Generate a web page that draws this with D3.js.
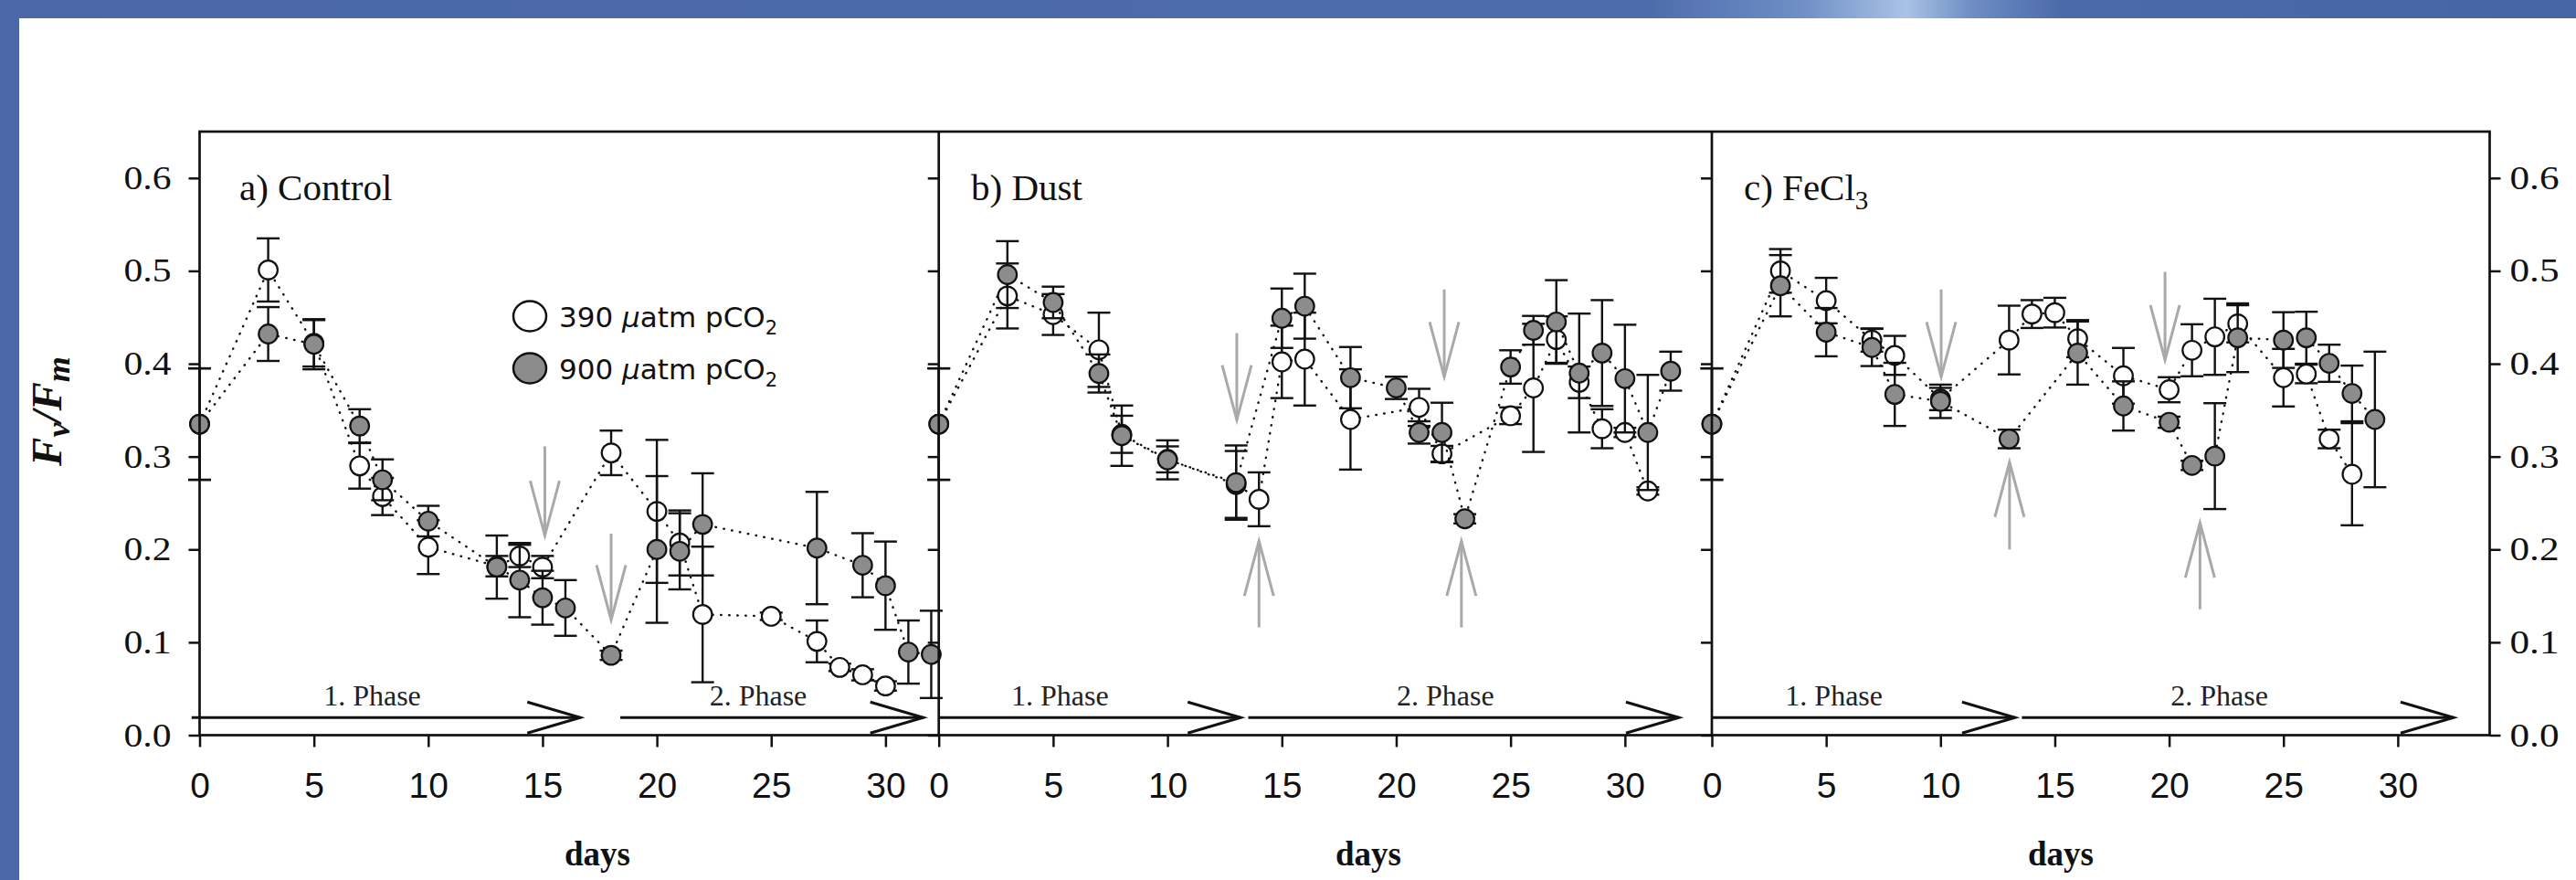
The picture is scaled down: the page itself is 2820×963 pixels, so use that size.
<!DOCTYPE html>
<html><head><meta charset="utf-8">
<script src="https://cdn.jsdelivr.net/npm/d3@7"></script>
<style>body{margin:0;background:#fff;overflow:hidden}</style>
</head><body>
<svg id="chart" width="2820" height="963" xmlns="http://www.w3.org/2000/svg"></svg>
<script>
// ---------------- data ----------------
const yTicks = [0, 0.1, 0.2, 0.3, 0.4, 0.5, 0.6];
const xTicks = [0, 5, 10, 15, 20, 25, 30];
const panelTitles = ["a) Control", "b) Dust", "c) FeCl"];
const legendLabels = ["390", "900"];

// a) Control
const controlDays390 = [0,3,5,7,8,10,13,14,15,18,20,21,22,25,27,28,29,30];
const controlFv390   = [0.335,0.501,0.422,0.290,0.257,0.2025,0.182,0.193,0.181,0.304,0.241,0.207,0.130,0.128,0.101,0.073,0.065,0.053];
const controlErr390  = [0.06,0.034,0.025,0.0245,0.02,0.029,0.011,0.012,0.012,0.024,0.077,0.035,0.073,0.004,0.0225,0.004,0.006,0.005];
const controlDays900 = [0,3,5,7,8,10,13,14,15,16,18,20,21,22,27,29,30,31,32];
const controlFv900   = [0.335,0.432,0.421,0.333,0.275,0.2305,0.181,0.167,0.148,0.137,0.086,0.200,0.198,0.227,0.2015,0.183,0.161,0.0895,0.087];
const controlErr900  = [0.06,0.029,0.027,0.018,0.022,0.0165,0.034,0.04,0.029,0.03,0.005,0.079,0.041,0.055,0.0605,0.0345,0.0475,0.034,0.047];

// b) Dust
const dustDays390 = [0,3,5,7,8,10,13,14,15,16,18,21,22,25,26,27,28,29,30,31];
const dustFv390   = [0.335,0.473,0.453,0.415,0.324,0.297,0.270,0.254,0.402,0.405,0.340,0.353,0.303,0.344,0.374,0.426,0.380,0.330,0.326,0.263];
const dustErr390  = [0.06,0.035,0.022,0.04,0.02,0.014,0.036,0.029,0.039,0.05,0.054,0.02,0.0085,0.009,0.069,0.025,0.017,0.021,0.005,0.004];
const dustDays900 = [0,3,5,7,8,10,13,15,16,18,20,21,22,23,25,26,27,28,29,30,31,32];
const dustFv900   = [0.335,0.496,0.466,0.3895,0.3225,0.2965,0.272,0.449,0.462,0.385,0.374,0.326,0.326,0.233,0.3965,0.436,0.445,0.390,0.4115,0.384,0.326,0.392];
const dustErr900  = [0.06,0.036,0.017,0.0205,0.0325,0.021,0.04,0.032,0.035,0.033,0.012,0.012,0.032,0.005,0.018,0.0155,0.045,0.064,0.057,0.058,0.062,0.021];

// c) FeCl3
const feDays390 = [0,3,5,7,8,10,13,14,15,16,18,20,21,22,23,25,26,27,28];
const feFv390   = [0.335,0.500,0.468,0.4255,0.409,0.362,0.4255,0.4535,0.455,0.427,0.387,0.372,0.4145,0.429,0.443,0.385,0.389,0.319,0.281];
const feErr390  = [0.06,0.0235,0.0245,0.0125,0.021,0.012,0.037,0.015,0.016,0.02,0.03,0.0135,0.028,0.041,0.02,0.031,0.01,0.01,0.055];
const feDays900 = [0,3,5,7,8,10,13,16,18,20,21,22,23,25,26,27,28,29];
const feFv900   = [0.335,0.484,0.434,0.4175,0.367,0.3595,0.319,0.4115,0.3545,0.337,0.2905,0.3005,0.428,0.4255,0.428,0.4005,0.368,0.340];
const feErr900  = [0.06,0.033,0.026,0.02,0.034,0.018,0.01,0.034,0.0265,0.006,0.005,0.057,0.037,0.03,0.028,0.02,0.03,0.073];

// gray marker arrows: [day, from value, to value (head)]
const controlMarks = [[15.1,0.311,0.215],[18.0,0.217,0.124]];
const dustMarks    = [[13.03,0.433,0.3395],[14.0,0.116,0.209],[22.1,0.48,0.386],[22.85,0.116,0.209]];
const feMarks      = [[10.03,0.48,0.386],[13.02,0.2,0.294],[19.82,0.499,0.404],[21.35,0.1355,0.2287]];

// phase arrows: [start day, end day]
const controlPhases = [[-0.35,16.65],[18.4,31.65]];
const dustPhases    = [[0,13.2],[13.53,32.36]];
const fePhases      = [[0,13.26],[13.56,32.44]];
const phaseLabelDays = [[7.55,24.43],[5.3,22.15],[5.34,22.2]];
const phaseLabels = ["1. Phase","2. Phase"];
const phaseLevel = 0.019;

// ---------------- layout ----------------
const svg = d3.select("#chart");
const plotTop = 144, plotBottom = 804.5;
const edges = [218.5, 1027.7, 1874, 2725.5];
const dayMax = [32.33, 33.8, 34.02];
const y = d3.scaleLinear().domain([0, 0.65]).range([plotBottom, plotTop]);

const SERIF = "'Liberation Serif','Times New Roman',serif";
const SANS = "'Liberation Sans',Arial,sans-serif";
const DJ = "'DejaVu Sans',Verdana,sans-serif";
const GRAY = "#8c8c8c";
const ARROWGRAY = "#a9a9a9";

// background frame (slide-style blue band)
const defs = svg.append("defs");
const grad = defs.append("linearGradient").attr("id","band").attr("x1","0").attr("x2","1").attr("y1","0").attr("y2","0");
[[0,"#4a68a8"],[0.64,"#4d6cab"],[0.7,"#6f8fc6"],[0.74,"#a9c3e6"],[0.765,"#6e8ec4"],[0.8,"#4b6aa9"],[1,"#4565a5"]]
  .forEach(([o,c]) => grad.append("stop").attr("offset",o).attr("stop-color",c));
svg.append("rect").attr("x",0).attr("y",0).attr("width",2820).attr("height",963).attr("fill","#fff");
svg.append("rect").attr("x",0).attr("y",0).attr("width",2820).attr("height",20).attr("fill","url(#band)");
svg.append("rect").attr("x",0).attr("y",0).attr("width",21).attr("height",963).attr("fill","#4a68a8");

const panels = [
  {open:[controlDays390,controlFv390,controlErr390], fill:[controlDays900,controlFv900,controlErr900], marks:controlMarks, phases:controlPhases},
  {open:[dustDays390,dustFv390,dustErr390], fill:[dustDays900,dustFv900,dustErr900], marks:dustMarks, phases:dustPhases},
  {open:[feDays390,feFv390,feErr390], fill:[feDays900,feFv900,feErr900], marks:feMarks, phases:fePhases}
];

function arrow(g, x1, y1, x2, y2, color, w, headLen, headHalf) {
  g.append("line").attr("x1",x1).attr("y1",y1).attr("x2",x2).attr("y2",y2)
    .attr("stroke",color).attr("stroke-width",w);
  const ang = Math.atan2(y2-y1, x2-x1);
  const bx = x2 - headLen*Math.cos(ang), by = y2 - headLen*Math.sin(ang);
  const px = -Math.sin(ang)*headHalf, py = Math.cos(ang)*headHalf;
  g.append("path").attr("d", `M${bx+px},${by+py}L${x2},${y2}L${bx-px},${by-py}`)
    .attr("fill","none").attr("stroke",color).attr("stroke-width",w).attr("stroke-linejoin","miter");
}

const dayLabelX = [654, 1498, 2256];

panels.forEach((p, i) => {
  const x = d3.scaleLinear().domain([0, dayMax[i]]).range([edges[i], edges[i+1]]);
  const g = svg.append("g");

  // x axis
  const xa = g.append("g").attr("transform",`translate(0,${plotBottom})`)
    .call(d3.axisBottom(x).tickValues(xTicks).tickSize(13).tickSizeOuter(0).tickPadding(28).tickFormat(d3.format("d")));
  xa.select(".domain").remove();
  xa.selectAll("line").attr("stroke","#111").attr("stroke-width",2.5);
  xa.selectAll("text").attr("font-family",SANS).attr("font-size",39).attr("fill","#111");

  // left y axis (ticks outward)
  const ya = g.append("g").attr("transform",`translate(${edges[i]},0)`)
    .call(d3.axisLeft(y).tickValues(yTicks).tickSize(12).tickSizeOuter(0).tickPadding(19).tickFormat(d3.format(".1f")));
  ya.select(".domain").remove();
  ya.selectAll("line").attr("stroke","#111").attr("stroke-width",2.5);
  if (i === 0) {
    ya.selectAll("text").attr("font-family",SERIF).attr("font-size",36).attr("fill","#111")
      .attr("textLength",52).attr("lengthAdjust","spacingAndGlyphs");
  } else ya.selectAll("text").remove();

  // phase arrows + labels
  p.phases.forEach((ph, k) => {
    arrow(g, x(ph[0]), y(phaseLevel), x(ph[1]), y(phaseLevel), "#111", 3, 58, 17);
    g.append("text").attr("x", x(phaseLabelDays[i][k])).attr("y", 772)
      .attr("text-anchor","middle").attr("font-family",SERIF).attr("font-size",32).attr("fill","#222")
      .text(phaseLabels[k]);
  });

  // gray annotation arrows
  p.marks.forEach(m => arrow(g, x(m[0]), y(m[1]), x(m[0]), y(m[2]), ARROWGRAY, 3, 60, 16));

  // series
  const drawSeries = (s, fill) => {
    const pts = s[0].map((d, j) => ({d, v: s[1][j], e: s[2][j]}));
    const line = d3.line().x(q => x(q.d)).y(q => y(q.v));
    g.append("path").datum(pts).attr("d", line).attr("fill","none").attr("stroke","#111")
      .attr("stroke-width",2.4).attr("stroke-dasharray","0.5 8.5").attr("stroke-linecap","round");
    const eb = g.append("g").attr("stroke","#111").attr("stroke-width",2.4);
    pts.forEach(q => {
      const cx = x(q.d), y1 = y(q.v + q.e), y2 = y(q.v - q.e);
      eb.append("line").attr("x1",cx).attr("x2",cx).attr("y1",y1).attr("y2",y2);
      eb.append("line").attr("x1",cx-12.5).attr("x2",cx+12.5).attr("y1",y1).attr("y2",y1);
      eb.append("line").attr("x1",cx-12.5).attr("x2",cx+12.5).attr("y1",y2).attr("y2",y2);
    });
    g.append("g").selectAll("circle").data(pts).join("circle")
      .attr("cx", q => x(q.d)).attr("cy", q => y(q.v)).attr("r", 10.3)
      .attr("fill", fill).attr("stroke","#111").attr("stroke-width",2.2);
  };
  drawSeries(p.open, "#fff");
  drawSeries(p.fill, GRAY);

  // panel title
  const t = g.append("text").attr("x", [262,1063,1909][i]).attr("y", 219)
    .attr("font-family",SERIF).attr("font-size",41).attr("fill","#111").text(panelTitles[i]);
  if (i === 2) t.append("tspan").attr("font-size",29).attr("dy",10).text("3");

  // x label
  g.append("text").attr("x", dayLabelX[i]).attr("y", 947).attr("text-anchor","middle")
    .attr("font-family",SERIF).attr("font-weight","bold").attr("font-size",37).attr("fill","#111").text("days");

  // right axis on last panel
  if (i === 2) {
    const ra = g.append("g").attr("transform",`translate(${edges[3]},0)`)
      .call(d3.axisRight(y).tickValues(yTicks).tickSize(12).tickSizeOuter(0).tickPadding(10).tickFormat(d3.format(".1f")));
    ra.select(".domain").remove();
    ra.selectAll("line").attr("stroke","#111").attr("stroke-width",2.5);
    ra.selectAll("text").attr("font-family",SERIF).attr("font-size",36).attr("fill","#111")
      .attr("textLength",54).attr("lengthAdjust","spacingAndGlyphs");
  }
});

// frame
const fr = svg.append("g").attr("stroke","#111").attr("stroke-width",2.7).attr("fill","none");
fr.append("rect").attr("x",edges[0]).attr("y",plotTop).attr("width",edges[3]-edges[0]).attr("height",plotBottom-plotTop);
fr.append("line").attr("x1",edges[1]).attr("x2",edges[1]).attr("y1",plotTop).attr("y2",plotBottom);
fr.append("line").attr("x1",edges[2]).attr("x2",edges[2]).attr("y1",plotTop).attr("y2",plotBottom);

// legend
const lg = svg.append("g");
legendLabels.forEach((lab, k) => {
  const cy = [346, 403][k];
  lg.append("ellipse").attr("cx",580).attr("cy",cy).attr("rx",18).attr("ry",16.5)
    .attr("fill", k === 0 ? "#fff" : GRAY).attr("stroke","#111").attr("stroke-width",2.5);
  const tx = lg.append("text").attr("x",612).attr("y",cy+12).attr("font-family",DJ).attr("font-size",31).attr("fill","#111");
  tx.append("tspan").text(lab + " ");
  tx.append("tspan").attr("font-style","italic").text("\u00b5");
  tx.append("tspan").text("atm pCO");
  tx.append("tspan").attr("font-size",21).attr("dy",8).text("2");
});

// y-axis title
const yt = svg.append("text").attr("transform","translate(67,450) rotate(-90)").attr("text-anchor","middle")
  .attr("font-family",SERIF).attr("font-weight","bold").attr("font-style","italic").attr("font-size",47).attr("fill","#111");
yt.append("tspan").text("F");
yt.append("tspan").attr("font-size",36).attr("dy",9).text("v");
yt.append("tspan").attr("dy",-9).text("/F");
yt.append("tspan").attr("font-size",36).attr("dy",9).text("m");
</script>
</body></html>
